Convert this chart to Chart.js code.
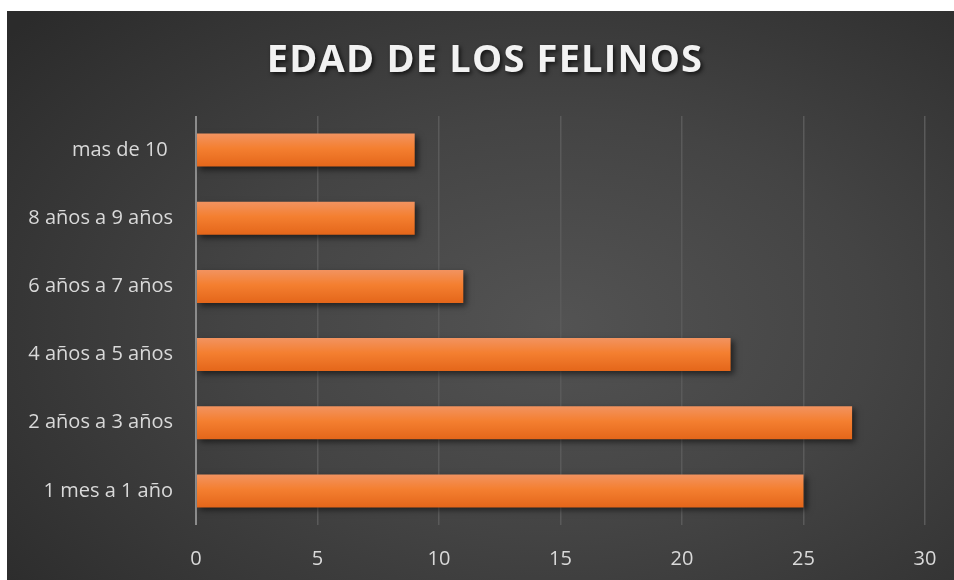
<!DOCTYPE html>
<html>
<head>
<meta charset="utf-8">
<script src="https://cdn.jsdelivr.net/npm/chart.js@4/dist/chart.umd.min.js"></script>
<style>
  html, body { margin: 0; padding: 0; background: #ffffff; }
  #wrap {
    position: absolute; left: 7px; top: 11px; width: 947px; height: 569px;
    background: radial-gradient(ellipse 75% 80% at 58% 55%, #535353 0%, #444444 45%, #2b2b2b 100%);
  }
  canvas { display: block; }
</style>
</head>
<body>
<div id="wrap"><canvas id="chart" width="947" height="569"></canvas></div>
<script>
  const chartTitle = 'EDAD DE LOS FELINOS';
  const categories = ['1 mes a 1 año', '2 años a 3 años', '4 años a 5 años', '6 años a 7 años', '8 años a 9 años', 'mas de 10 '];
  const felinos = [25, 27, 22, 11, 9, 9];
  const xTicks = [0, 5, 10, 15, 20, 25, 30];

  // vertical orange gradient for each bar, based on its band on the y scale
  function barFill(context) {
    const chart = context.chart;
    const yScale = chart.scales.y;
    if (!yScale || yScale.top === undefined) return '#f47d30';
    const band = Math.abs(yScale.getPixelForValue(1) - yScale.getPixelForValue(0)) || 68;
    const center = yScale.getPixelForValue(context.dataIndex);
    const half = band * 0.485 / 2;
    const g = chart.ctx.createLinearGradient(0, center - half, 0, center + half);
    g.addColorStop(0, '#f29360');
    g.addColorStop(0.45, '#f47f30');
    g.addColorStop(1, '#e4661a');
    return g;
  }

  const barShadow = {
    id: 'barShadow',
    beforeDatasetsDraw(chart) {
      const ctx = chart.ctx;
      ctx.save();
      ctx.shadowColor = 'rgba(0, 0, 0, 0.55)';
      ctx.shadowBlur = 6;
      ctx.shadowOffsetX = 3;
      ctx.shadowOffsetY = 3;
    },
    afterDatasetsDraw(chart) {
      chart.ctx.restore();
    },
  };

  const spacedTitle = {
    id: 'spacedTitle',
    afterDraw(chart) {
      const ctx = chart.ctx;
      ctx.save();
      ctx.font = 'bold 38px "Open Sans"';
      ctx.letterSpacing = '1.2px';
      ctx.textAlign = 'center';
      ctx.textBaseline = 'alphabetic';
      ctx.shadowColor = 'rgba(0, 0, 0, 0.7)';
      ctx.shadowBlur = 4;
      ctx.shadowOffsetX = 2;
      ctx.shadowOffsetY = 2;
      ctx.fillStyle = '#f2f2f2';
      ctx.fillText(chartTitle, 478, 61);
      ctx.restore();
    },
  };

  new Chart(document.getElementById('chart'), {
    type: 'bar',
    data: {
      labels: categories,
      datasets: [{
        label: chartTitle,
        data: felinos,
        backgroundColor: barFill,
        borderWidth: 0,
        barPercentage: 0.485,
        categoryPercentage: 1,
      }],
    },
    options: {
      indexAxis: 'y',
      responsive: false,
      animation: false,
      layout: { padding: { top: 105, right: 29, bottom: 0, left: 0 } },
      scales: {
        x: {
          min: 0,
          max: 30,
          afterBuildTicks: (s) => { s.ticks = xTicks.map((v) => ({ value: v })); },
          afterFit: (s) => {
            s.height = 55;
            s.paddingLeft = 0;
            s.paddingRight = 0;
          },
          grid: {
            color: (c) => (c.tick && c.tick.value === 0 ? '#8c8c8c' : '#5a5a5a'),
            lineWidth: (c) => (c.tick && c.tick.value === 0 ? 2 : 1.5),
            drawTicks: false,
          },
          border: { display: false },
          ticks: { color: '#d9d9d9', font: { family: 'Open Sans', size: 20 }, padding: 22 },
        },
        y: {
          reverse: true,
          afterFit: (s) => { s.width = 189; },
          grid: { display: false, drawTicks: false },
          border: { display: false },
          ticks: { color: '#d9d9d9', font: { family: 'Open Sans', size: 20 }, padding: 23 },
        },
      },
      plugins: {
        legend: { display: false },
        title: { display: false },
        tooltip: { enabled: false },
      },
    },
    plugins: [barShadow, spacedTitle],
  });
</script>
</body>
</html>
